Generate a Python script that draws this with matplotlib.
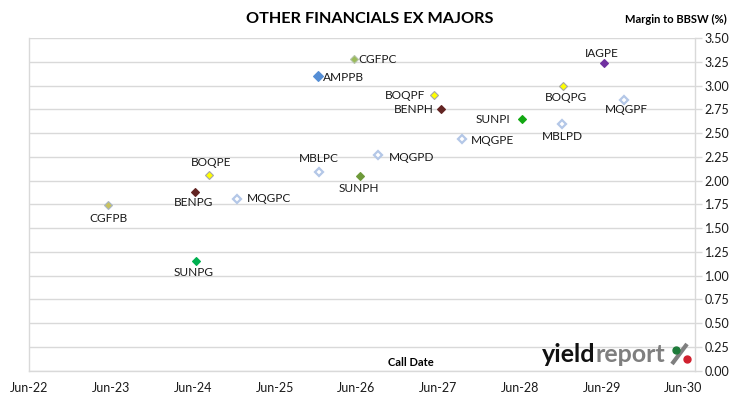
import matplotlib
matplotlib.use("Agg")
import matplotlib.pyplot as plt
import matplotlib.dates as mdates
from matplotlib.lines import Line2D
import numpy as np

# ---- data ----
codes = ["CGFPB", "BENPG", "SUNPG", "BOQPE", "MQGPC", "AMPPB", "MBLPC", "CGFPC",
         "SUNPH", "MQGPD", "BOQPF", "BENPH", "MQGPE", "SUNPI", "MBLPD", "BOQPG",
         "IAGPE", "MQGPF"]
call_dates = ["2023-05-19", "2024-06-11", "2024-06-15", "2024-08-12", "2024-12-13",
              "2025-12-10", "2025-12-18", "2026-05-20", "2026-06-16", "2026-09-07",
              "2027-05-12", "2027-06-14", "2027-09-17", "2028-06-12", "2028-12-06",
              "2028-12-12", "2029-06-13", "2029-09-10"]
margins = [1.74, 1.88, 1.15, 2.06, 1.81, 3.10, 2.09, 3.28,
           2.05, 2.27, 2.90, 2.75, 2.44, 2.65, 2.60, 3.00,
           3.24, 2.85]
y_ticks = [0.00, 0.25, 0.50, 0.75, 1.00, 1.25, 1.50, 1.75, 2.00, 2.25,
           2.50, 2.75, 3.00, 3.25, 3.50]
x_tick_dates = ["2022-06-01", "2023-06-01", "2024-06-01", "2025-06-01", "2026-06-01",
                "2027-06-01", "2028-06-01", "2029-06-01", "2030-06-01"]

# ---- styles ----
HOLLOW = ("white", "#B4C7E7")
FS = 4.3
style = {
    "CGFPB": ("#C9C25E", "#A9B6C6", FS),
    "BENPG": ("#632523", "#632523", FS),
    "SUNPG": ("#00B050", "#00B050", FS),
    "BOQPE": ("#FFFF00", "#A6A6A6", FS),
    "MQGPC": HOLLOW + (4.5,),
    "AMPPB": ("#558ED5", "#558ED5", 5.6),
    "MBLPC": HOLLOW + (4.5,),
    "CGFPC": ("#9BBB59", "#B5C4A8", FS),
    "SUNPH": ("#6E9A3A", "#6E9A3A", FS),
    "MQGPD": HOLLOW + (4.5,),
    "BOQPF": ("#FFFF00", "#A6A6A6", FS),
    "BENPH": ("#632523", "#632523", FS),
    "MQGPE": HOLLOW + (4.5,),
    "SUNPI": ("#12A812", "#12A812", FS),
    "MBLPD": HOLLOW + (4.5,),
    "BOQPG": ("#FFFF00", "#A6A6A6", FS),
    "IAGPE": ("#7030A0", "#7030A0", FS),
    "MQGPF": HOLLOW + (4.5,),
}
# label offsets in pixels (dx, dy with dy positive = down) and alignment
lab = {
    "CGFPB": (0, 13, "center"), "BENPG": (-2, 10, "center"), "SUNPG": (-2, 11, "center"),
    "BOQPE": (2, -12, "center"), "MQGPC": (10, 0, "left"), "AMPPB": (5, 1, "left"),
    "MBLPC": (-1, -14, "center"), "CGFPC": (5, 0, "left"), "SUNPH": (-1, 13, "center"),
    "MQGPD": (11, 2, "left"), "BOQPF": (-8, 0, "right"), "BENPH": (-7, 0, "right"),
    "MQGPE": (9, 2, "left"), "SUNPI": (-12, 1, "right"), "MBLPD": (0, 13, "center"),
    "BOQPG": (3, 12, "center"), "IAGPE": (-3, -9, "center"), "MQGPF": (2, 10, "center"),
}

FONT = "Lato"
plt.rcParams["font.family"] = [FONT, "DejaVu Sans"]

W, H = 730, 399
fig = plt.figure(figsize=(W / 100, H / 100), dpi=100)
fig.patch.set_facecolor("white")

def fx(px):
    return px / W

def fy(py):
    return 1 - py / H

ax = fig.add_axes([fx(29.3), fy(370.5), fx(695) - fx(29.3), fy(38.3) - fy(370.5)])

xd = mdates.date2num(np.array(call_dates, dtype="datetime64[D]"))
for c, x, y in zip(codes, xd, margins):
    fc, ec, ms = style[c]
    hollow = fc == "white"
    ax.plot([x], [y], marker="D", ms=ms, mfc=fc, mec=ec,
            mew=1.6 if hollow else 0.8, ls="none", zorder=3)
    dx, dy, ha = lab[c]
    ax.annotate(c, (x, y), xytext=(dx, -dy), textcoords="offset pixels",
                ha=ha, va="center", fontsize=8.6, color="#1a1a1a", zorder=4)

xmin = mdates.date2num(np.datetime64("2022-06-05"))
xmax = mdates.date2num(np.datetime64("2030-07-23"))
ax.set_xlim(xmin, xmax)
ax.set_ylim(0, 3.5)

ax.set_yticks(y_ticks)
ax.set_yticklabels([f"{v:.2f}" for v in y_ticks])
ax.yaxis.tick_right()
ax.tick_params(axis="y", direction="out", length=5, color="#D9D9D9", width=1,
               labelsize=9, labelcolor="#1a1a1a", pad=2)

xt = mdates.date2num(np.array(x_tick_dates, dtype="datetime64[D]"))
ax.set_xticks(xt)
ax.xaxis.set_major_formatter(mdates.DateFormatter("%b-%y"))
ax.tick_params(axis="x", length=0, labelsize=9, labelcolor="#1a1a1a", pad=8)

ax.grid(axis="y", color="#D9D9D9", lw=1)
ax.set_axisbelow(True)
ax.spines["top"].set_visible(False)
for s in ["left", "right", "bottom"]:
    ax.spines[s].set_color("#D9D9D9")
    ax.spines[s].set_linewidth(1)

fig.text(fx(370), fy(19), "OTHER FINANCIALS EX MAJORS", ha="center", va="center",
         fontsize=11.7, fontweight="bold", color="black")
fig.text(fx(727), fy(19), "Margin to BBSW (%)", ha="right", va="center",
         fontsize=8, fontweight="bold", color="black")
fig.text(fx(411), fy(363), "Call Date", ha="center", va="center",
         fontsize=8, fontweight="bold", color="black")

# logo
t1 = fig.text(fx(542), fy(362), "yield", ha="left", va="baseline", fontsize=18,
              fontweight="bold", color="#111111")
t2 = fig.text(fx(588), fy(362), "report", ha="left", va="baseline", fontsize=18,
              fontweight="bold", color="#7F7F7F")
fig.add_artist(Line2D([fx(672), fx(687)], [fy(364), fy(344)], color="#7F7F7F", lw=3,
                      solid_capstyle="butt", transform=fig.transFigure, zorder=5))
fig.add_artist(Line2D([fx(675.5)], [fy(349.5)], marker="o", ms=5, mfc="#1E7B3A",
                      mec="#1E7B3A", transform=fig.transFigure, zorder=6))
fig.add_artist(Line2D([fx(686.5)], [fy(358.5)], marker="o", ms=5, mfc="#D0202E",
                      mec="#D0202E", transform=fig.transFigure, zorder=6))

fig.canvas.draw()
r = fig.canvas.get_renderer()
bb = t1.get_window_extent(r)
t2.set_x(bb.x1 / W)

fig.savefig("out.png", dpi=100, facecolor="white")
